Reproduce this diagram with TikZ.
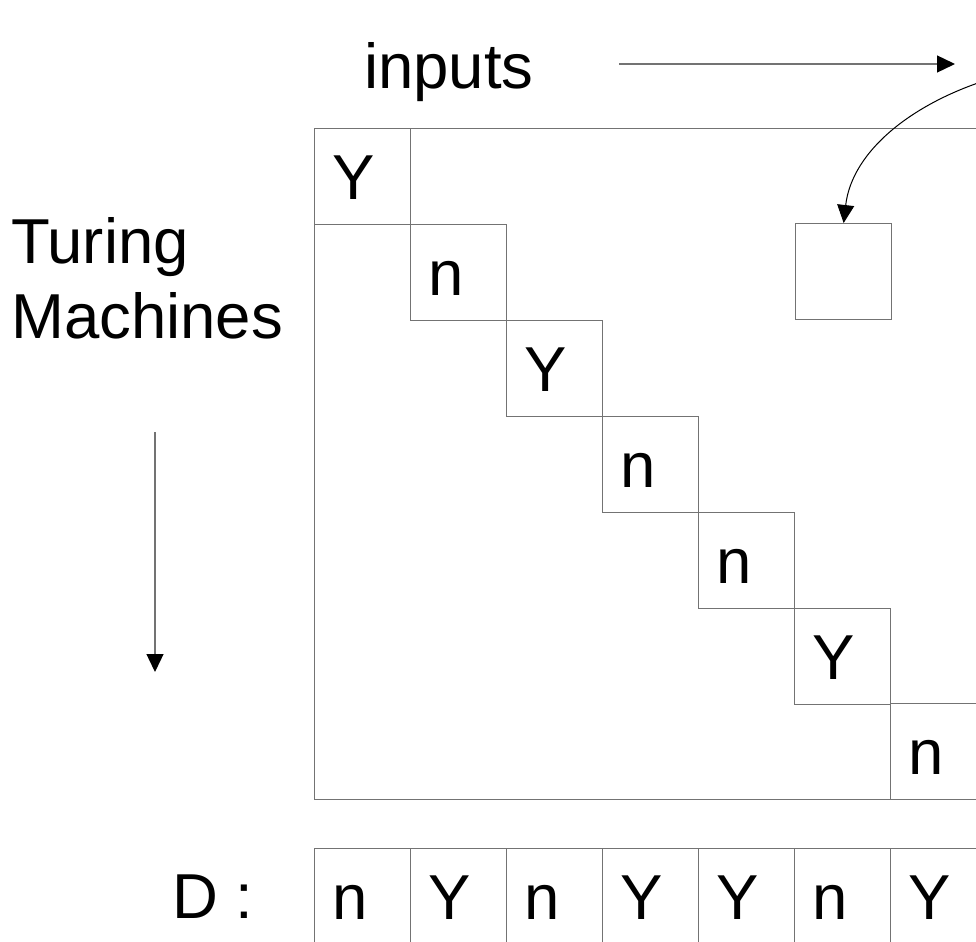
\documentclass[tikz,border=0pt]{standalone}
\usepackage{fontspec}
\setmainfont{Liberation Sans}
\usetikzlibrary{arrows.meta}

\newcommand{\bigfont}{\fontsize{63.5bp}{75bp}\selectfont}

\tikzset{
  grid line/.style={draw=black!55, line width=1.3bp},
  cell/.style={grid line, anchor=north west, minimum height=96bp, text width=60bp,
    inner xsep=18bp, inner ysep=0pt, text height=45bp, text depth=0pt, align=left, font=\bigfont},
  label text/.style={inner sep=0pt, font=\bigfont},
}

\begin{document}
\begin{tikzpicture}[x=1bp, y=-1bp, >={Triangle[length=18bp,width=17bp,color=black]}]
\clip (0,0) rectangle (976,942);

% Labels
\node[label text, anchor=base west] (inputs) at (364,88) {inputs};
\node[label text, anchor=base west, align=left] (machines) at (11,338) {Turing\\Machines};
\node[label text, anchor=base west] (dlabel) at (172,918) {D :};

% Direction arrows
\coordinate (in start) at (619,64);
\coordinate (in end) at (955,64);
\draw [->, grid line] (in start) -- (in end);
\coordinate (tm start) at (155,432);
\coordinate (tm end) at (155,672);
\draw [->, grid line] (tm start) -- (tm end);

% Table of machines against inputs
\node[grid line, anchor=north west, minimum width=672bp, minimum height=671bp, inner sep=0pt] (table) at (314,128) {};

% Diagonal entries
\node[cell] (c1) at (314,128) {Y};
\node[cell] (c2) at (410,224) {n};
\node[cell] (c3) at (506,320) {Y};
\node[cell] (c4) at (602,416) {n};
\node[cell] (c5) at (698,512) {n};
\node[cell] (c6) at (794,608) {Y};
\node[cell] (c7) at (890,703) {n};

% Single entry pointed at
\node[grid line, anchor=north west, minimum size=96bp, inner sep=0pt] (probe) at (795,223) {};
\coordinate (note) at (1000,76);
\draw [->, line width=1bp] (note) .. controls (915,100) and (852,150) .. (probe.north);

% Flipped diagonal
\node[cell] (d1) at (314,848) {n};
\node[cell] (d2) at (410,848) {Y};
\node[cell] (d3) at (506,848) {n};
\node[cell] (d4) at (602,848) {Y};
\node[cell] (d5) at (698,848) {Y};
\node[cell] (d6) at (794,848) {n};
\node[cell] (d7) at (890,848) {Y};

\end{tikzpicture}
\end{document}
